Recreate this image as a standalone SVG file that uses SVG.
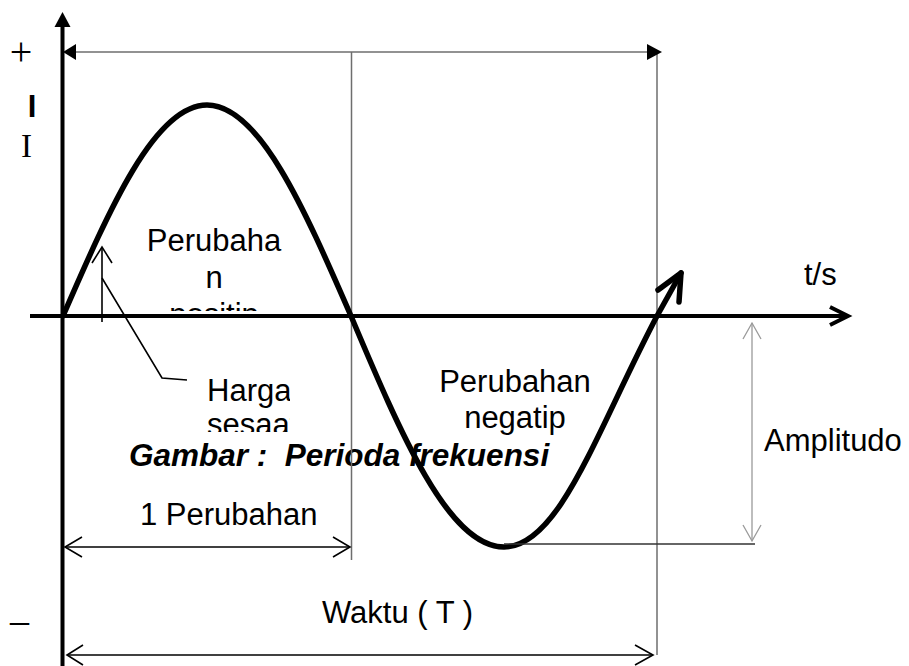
<svg xmlns="http://www.w3.org/2000/svg" width="909" height="666" viewBox="0 0 909 666">
<style>
.thin{fill:none;stroke:#6e6e6e;stroke-width:1.5}
.lt{fill:none;stroke:#9a9a9a;stroke-width:1.3}
.blk{fill:none;stroke:#000;stroke-width:1.6}
.axis{fill:none;stroke:#000;stroke-width:4}
.wave{fill:none;stroke:#000;stroke-width:5.5;stroke-linejoin:round;stroke-linecap:round}
.head{fill:#000;stroke:none}
.t{font-family:"Liberation Sans",Arial,sans-serif;font-size:31px;fill:#000}
.bi{font-family:"Liberation Sans",Arial,sans-serif;font-size:31.5px;font-weight:bold;font-style:italic;fill:#000}
.s{font-family:"Liberation Serif","Times New Roman",serif;fill:#000}
</style>
<defs>
<clipPath id="cpPos"><rect x="100" y="200" width="250" height="111"/></clipPath>
<clipPath id="cpHarga"><rect x="180" y="360" width="110" height="72"/></clipPath>
</defs>
<rect width="909" height="666" fill="#fff"/>

<g id="labels">
<g id="sign-plus"><text class="s" x="21" y="65" font-size="40" text-anchor="middle">+</text></g>
<g id="sign-minus"><text class="s" x="10" y="633" font-size="38">–</text></g>
<g id="label-I-bold"><text class="t" x="32" y="117" font-size="33" font-weight="bold" text-anchor="middle">I</text></g>
<g id="label-I"><text class="s" x="26.5" y="157" font-size="33" text-anchor="middle">I</text></g>
<g id="label-positip" clip-path="url(#cpPos)">
<text class="t" x="214" y="251" text-anchor="middle">Perubaha</text>
<text class="t" x="214" y="288" text-anchor="middle">n</text>
<text class="t" x="214" y="325" text-anchor="middle">positip</text>
</g>
<g id="label-harga" clip-path="url(#cpHarga)">
<text class="t" x="207" y="401">Harga</text>
<text class="t" x="207" y="435">sesaat</text>
</g>
<g id="label-negatip">
<text class="t" x="515" y="392" text-anchor="middle">Perubahan</text>
<text class="t" x="515" y="428" text-anchor="middle">negatip</text>
</g>
<g id="label-ts"><text class="t" x="804" y="285">t/s</text></g>
<g id="label-amplitudo"><text class="t" x="764" y="451">Amplitudo</text></g>
<g id="label-title"><text class="bi" x="129" y="466" xml:space="preserve">Gambar :  Perioda frekuensi</text></g>
<g id="label-1perubahan"><text class="t" x="140" y="525">1 Perubahan</text></g>
<g id="label-waktu"><text class="t" x="322" y="623">Waktu ( T )</text></g>
</g>

<g id="connectors">
<line class="thin" x1="351.5" y1="52" x2="351.5" y2="560"/>
<line class="thin" x1="657" y1="52" x2="657" y2="655"/>
<line class="thin" x1="72" y1="52" x2="652" y2="52"/>
<path class="head" d="M63 52 L76 44 L76 60 Z"/>
<path class="head" d="M662 52 L647 44 L647 60 Z"/>
<line class="axis" x1="62.5" y1="24" x2="62.5" y2="666"/>
<path class="head" d="M62.5 12 L70.5 27 L54.5 27 Z"/>
<line class="axis" x1="30" y1="316" x2="846" y2="316"/>
<path class="axis" d="M830 307 L848 316 L830 325"/>
<path class="wave" d="M63 316 C110 207.9 154.9 105 207 105 C259.1 105 304 207.9 351 316 C400.9 434.3 448.6 547 504 547 C559.4 547 597 430 657 316 L681 273"/>
<path class="wave" d="M658 290 L681 273 L679 302"/>
<line class="blk" x1="102" y1="322" x2="102" y2="247"/>
<path class="blk" d="M92 263 L102 247 L112 263"/>
<path class="blk" d="M102 278 L162 378 L187 380"/>
<line x1="504" y1="544" x2="755" y2="544" style="stroke:#333;stroke-width:1.5"/>
<line class="lt" x1="752" y1="323" x2="752" y2="541"/>
<path class="lt" d="M743 339 L752 323 L761 339 M743 525 L752 541 L761 525"/>
<line class="blk" x1="65" y1="547" x2="350" y2="547"/>
<path class="blk" d="M82 537 L65 547 L82 557 M333 537 L350 547 L333 557"/>
<line class="blk" x1="67" y1="655" x2="653" y2="655"/>
<path class="blk" d="M83 645 L67 655 L83 665 M635 645 L653 655 L635 665"/>
</g>
</svg>
